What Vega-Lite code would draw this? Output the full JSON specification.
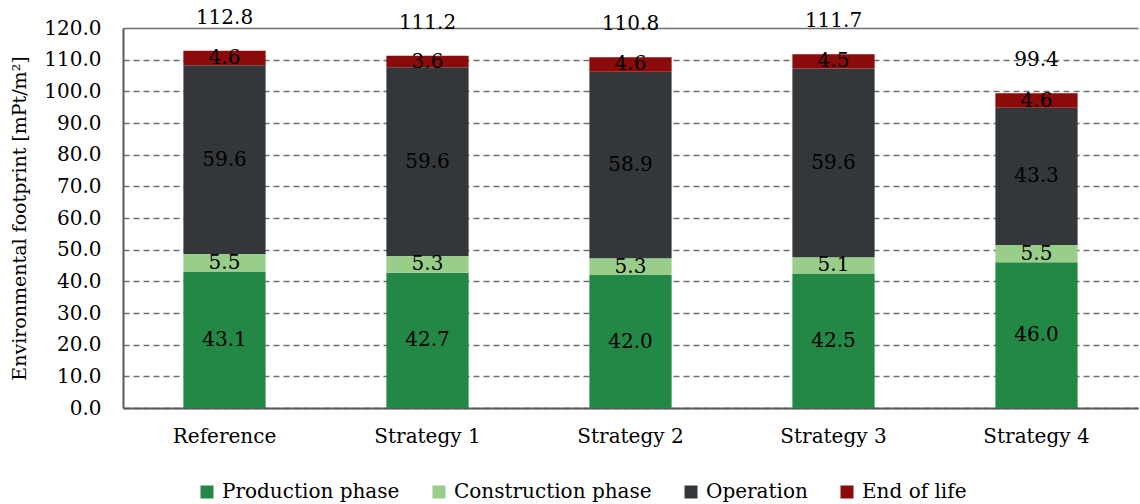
{
  "$schema": "https://vega.github.io/schema/vega-lite/v6.json",
  "width": 1015,
  "height": 380,
  "autosize": "none",
  "padding": {"left": 123, "top": 28, "right": 2, "bottom": 96},
  "config": {
    "font": "DejaVu Serif",
    "view": {"stroke": null},
    "axis": {"labelFont": "DejaVu Serif", "titleFont": "DejaVu Serif", "labelColor": "#000000", "titleColor": "#000000"},
    "axisY": {
      "titleFontSize": 19, "titleFontWeight": "normal", "titlePadding": 14,
      "labelFontSize": 20, "labelPadding": 22, "labelOverlap": false, "ticks": false,
      "domainColor": "#595959", "domainWidth": 2,
      "grid": true, "gridColor": "#6f6f6f", "gridWidth": 1.5
    }
  },
  "data": {
    "values": [
      {"strategy": "Reference", "phase": "Production phase", "k": 1, "value": 43.1},
      {"strategy": "Reference", "phase": "Construction phase", "k": 2, "value": 5.5},
      {"strategy": "Reference", "phase": "Operation", "k": 3, "value": 59.6},
      {"strategy": "Reference", "phase": "End of life", "k": 4, "value": 4.6},
      {"strategy": "Strategy 1", "phase": "Production phase", "k": 1, "value": 42.7},
      {"strategy": "Strategy 1", "phase": "Construction phase", "k": 2, "value": 5.3},
      {"strategy": "Strategy 1", "phase": "Operation", "k": 3, "value": 59.6},
      {"strategy": "Strategy 1", "phase": "End of life", "k": 4, "value": 3.6},
      {"strategy": "Strategy 2", "phase": "Production phase", "k": 1, "value": 42.0},
      {"strategy": "Strategy 2", "phase": "Construction phase", "k": 2, "value": 5.3},
      {"strategy": "Strategy 2", "phase": "Operation", "k": 3, "value": 58.9},
      {"strategy": "Strategy 2", "phase": "End of life", "k": 4, "value": 4.6},
      {"strategy": "Strategy 3", "phase": "Production phase", "k": 1, "value": 42.5},
      {"strategy": "Strategy 3", "phase": "Construction phase", "k": 2, "value": 5.1},
      {"strategy": "Strategy 3", "phase": "Operation", "k": 3, "value": 59.6},
      {"strategy": "Strategy 3", "phase": "End of life", "k": 4, "value": 4.5},
      {"strategy": "Strategy 4", "phase": "Production phase", "k": 1, "value": 46.0},
      {"strategy": "Strategy 4", "phase": "Construction phase", "k": 2, "value": 5.5},
      {"strategy": "Strategy 4", "phase": "Operation", "k": 3, "value": 43.3},
      {"strategy": "Strategy 4", "phase": "End of life", "k": 4, "value": 4.6}
    ]
  },
  "encoding": {
    "x": {
      "field": "strategy", "type": "nominal", "sort": null,
      "scale": {"paddingInner": 0, "paddingOuter": 0},
      "axis": {"title": null, "labelAngle": 0, "labelFontSize": 20, "labelPadding": 18, "ticks": false, "domainColor": "#595959", "domainWidth": 2, "grid": false}
    }
  },
  "layer": [
    {
      "transform": [
        {"stack": "value", "groupby": ["strategy"], "sort": [{"field": "k", "order": "ascending"}], "as": ["y0", "y1"]}
      ],
      "mark": {"type": "bar", "width": {"band": 0.405}},
      "encoding": {
        "y": {
          "field": "y0", "type": "quantitative",
          "scale": {"domain": [0, 120], "nice": false},
          "axis": {
            "title": "Environmental footprint [mPt/m²]",
            "values": [0, 10, 20, 30, 40, 50, 60, 70, 80, 90, 100, 110, 120],
            "format": ".1f",
            "gridDash": {"condition": {"test": "datum.value == 120", "value": []}, "value": [6, 4]}
          }
        },
        "y2": {"field": "y1"},
        "color": {
          "field": "phase", "type": "nominal",
          "scale": {"domain": ["Production phase", "Construction phase", "Operation", "End of life"], "range": ["#238845", "#98CD8A", "#343739", "#8B0A0A"]},
          "legend": {"title": null, "orient": "none", "legendX": 74, "legendY": 454, "direction": "horizontal", "symbolType": "square", "symbolSize": 169, "symbolStrokeWidth": 0, "labelFontSize": 20, "labelFont": "DejaVu Serif", "labelColor": "#000000", "labelLimit": 0, "columnPadding": 29, "labelOffset": 5}
        }
      }
    },
    {
      "transform": [
        {"stack": "value", "groupby": ["strategy"], "sort": [{"field": "k", "order": "ascending"}], "as": ["y0", "y1"]},
        {"calculate": "(datum.y0 + datum.y1) / 2", "as": "mid"}
      ],
      "mark": {"type": "text", "fontSize": 20, "color": "#000000", "baseline": "middle", "font": "DejaVu Serif"},
      "encoding": {
        "y": {
          "field": "mid", "type": "quantitative",
          "axis": {
            "title": "Environmental footprint [mPt/m²]",
            "values": [0, 10, 20, 30, 40, 50, 60, 70, 80, 90, 100, 110, 120],
            "format": ".1f",
            "gridDash": {"condition": {"test": "datum.value == 120", "value": []}, "value": [6, 4]}
          }
        },
        "text": {"field": "value", "type": "quantitative", "format": ".1f"}
      }
    },
    {
      "transform": [
        {"aggregate": [{"op": "sum", "field": "value", "as": "total"}], "groupby": ["strategy"]}
      ],
      "mark": {"type": "text", "fontSize": 20, "color": "#000000", "baseline": "middle", "dy": -33, "font": "DejaVu Serif"},
      "encoding": {
        "y": {
          "field": "total", "type": "quantitative",
          "axis": {
            "title": "Environmental footprint [mPt/m²]",
            "values": [0, 10, 20, 30, 40, 50, 60, 70, 80, 90, 100, 110, 120],
            "format": ".1f",
            "gridDash": {"condition": {"test": "datum.value == 120", "value": []}, "value": [6, 4]}
          }
        },
        "text": {"field": "total", "type": "quantitative", "format": ".1f"}
      }
    }
  ]
}
